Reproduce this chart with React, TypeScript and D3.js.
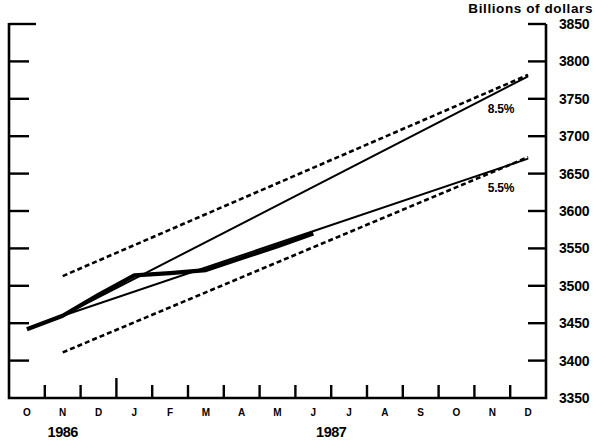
import React, { useEffect, useRef } from 'react';
import * as d3 from 'd3';

// month slots, Oct 1986 .. Dec 1987
const months = ['O', 'N', 'D', 'J', 'F', 'M', 'A', 'M', 'J', 'J', 'A', 'S', 'O', 'N', 'D'];
const yearLabels = [
  { text: '1986', at: 1.5 },
  { text: '1987', at: 9 },
];
const yTicks = [3350, 3400, 3450, 3500, 3550, 3600, 3650, 3700, 3750, 3800, 3850];

// actual series (billions of dollars), Oct 86 .. Jun 87
const actual = [3442, 3460, 3488, 3514, 3517, 3521, 3537, 3553, 3570];

// growth cone from Nov 86 to Dec 87
const coneStart = { m: 1, v: 3460 };
const coneHigh = { m: 14, v: 3780 }; // 8.5%
const coneLow = { m: 14, v: 3670 }; // 5.5%

// dashed tolerance lines
const dashUpper = [
  { m: 1, v: 3513 },
  { m: 14, v: 3782 },
];
const dashLower = [
  { m: 1, v: 3411 },
  { m: 14, v: 3672 },
];

const W = 595;
const H = 445;

const App: React.FC = () => {
  const svgRef = useRef<SVGSVGElement | null>(null);

  useEffect(() => {
    if (!svgRef.current) return;
    const svg = d3.select(svgRef.current);
    svg.selectAll('*').remove();

    const left = 9;
    const right = 546;
    const top = 24;
    const bottom = 398;

    // x in month units, month m sits at center of its slot
    const x = d3.scaleLinear().domain([0, months.length]).range([left, right]);
    const xc = (m: number) => x(m + 0.5);
    const y = d3.scaleLinear().domain([3350, 3850]).range([bottom, top]);

    const ink = '#000';
    const bold = "'Liberation Sans', Arial, sans-serif";

    // axes frame (left, bottom, right)
    svg.append('path')
      .attr('d', `M${left},${top - 1} V${bottom} H${right} V${top}`)
      .attr('fill', 'none')
      .attr('stroke', ink)
      .attr('stroke-width', 2.6);

    // value ticks on both sides
    yTicks.filter(t => t > 3350).forEach(t => {
      const long = t === 3850;
      svg.append('line')
        .attr('x1', left).attr('x2', left + (long ? 27 : 20))
        .attr('y1', y(t)).attr('y2', y(t))
        .attr('stroke', ink).attr('stroke-width', 2.4);
      svg.append('line')
        .attr('x1', right).attr('x2', right - 18)
        .attr('y1', y(t)).attr('y2', y(t))
        .attr('stroke', ink).attr('stroke-width', 2.4);
    });

    svg.append('g')
      .selectAll('text')
      .data(yTicks)
      .enter().append('text')
      .attr('x', 559)
      .attr('y', d => y(d) + 5)
      .style('font-family', bold)
      .style('font-weight', 'bold')
      .style('font-size', '14px')
      .style('letter-spacing', '-0.2px')
      .attr('fill', ink)
      .text(d => d);

    svg.append('text')
      .attr('x', 593)
      .attr('y', 13)
      .attr('text-anchor', 'end')
      .style('font-family', bold)
      .style('font-weight', 'bold')
      .style('font-size', '13.5px')
      .style('letter-spacing', '0.6px')
      .attr('fill', ink)
      .text('Billions of dollars');

    // month boundary ticks
    d3.range(1, months.length).forEach(k => {
      svg.append('line')
        .attr('x1', x(k)).attr('x2', x(k))
        .attr('y1', bottom).attr('y2', k === 3 ? bottom - 20 : bottom - 13)
        .attr('stroke', ink).attr('stroke-width', 2.4);
    });

    svg.append('g')
      .selectAll('text')
      .data(months)
      .enter().append('text')
      .attr('x', (_d, i) => xc(i))
      .attr('y', 416)
      .attr('text-anchor', 'middle')
      .style('font-family', bold)
      .style('font-weight', 'bold')
      .style('font-size', '10px')
      .attr('fill', ink)
      .text(d => d);

    svg.append('g')
      .selectAll('text')
      .data(yearLabels)
      .enter().append('text')
      .attr('x', d => x(d.at))
      .attr('y', 437)
      .attr('text-anchor', 'middle')
      .style('font-family', bold)
      .style('font-weight', 'bold')
      .style('font-size', '14.5px')
      .style('letter-spacing', '-0.5px')
      .attr('fill', ink)
      .text(d => d.text);

    const line = d3.line<{ m: number; v: number }>()
      .x(d => xc(d.m))
      .y(d => y(d.v));

    // dashed lines
    [dashUpper, dashLower].forEach(pts => {
      svg.append('path')
        .attr('d', line(pts))
        .attr('fill', 'none')
        .attr('stroke', ink)
        .attr('stroke-width', 2.6)
        .attr('stroke-dasharray', '5,3');
    });

    // growth cone
    [coneHigh, coneLow].forEach(end => {
      svg.append('path')
        .attr('d', line([coneStart, end]))
        .attr('fill', 'none')
        .attr('stroke', ink)
        .attr('stroke-width', 2);
    });

    // actual
    svg.append('path')
      .attr('d', line(actual.map((v, m) => ({ m, v }))))
      .attr('fill', 'none')
      .attr('stroke', ink)
      .attr('stroke-width', 4.2)
      .attr('stroke-linejoin', 'round');

    svg.append('text')
      .attr('x', 514).attr('y', 113)
      .attr('text-anchor', 'end')
      .style('font-family', bold)
      .style('font-weight', 'bold')
      .style('font-size', '12px')
      .style('letter-spacing', '-0.3px')
      .attr('fill', ink)
      .text('8.5%');

    svg.append('text')
      .attr('x', 514).attr('y', 192)
      .attr('text-anchor', 'end')
      .style('font-family', bold)
      .style('font-weight', 'bold')
      .style('font-size', '12px')
      .style('letter-spacing', '-0.3px')
      .attr('fill', ink)
      .text('5.5%');
  }, []);

  return (
    <svg
      ref={svgRef}
      width={W}
      height={H}
      style={{ position: 'absolute', left: 0, top: 0, background: '#fff' }}
    />
  );
};

export default App;
